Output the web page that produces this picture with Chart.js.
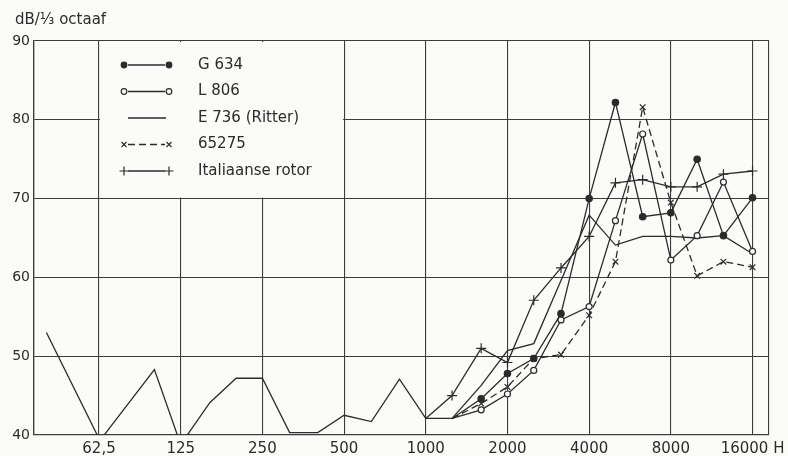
<!DOCTYPE html>
<html>
<head>
<meta charset="utf-8">
<script src="https://cdn.jsdelivr.net/npm/chart.js@4.4.0/dist/chart.umd.min.js"></script>
<style>
  html, body { margin: 0; padding: 0; background: #fbfbf9; }
  #wrap { width: 788px; height: 456px; }
</style>
</head>
<body>
<div id="wrap"><canvas id="spectrum" width="788" height="456"></canvas></div>
<script>
// tertsbanden (Hz)
const bands = [40, 50, 63, 80, 100, 125, 160, 200, 250, 315, 400, 500, 630, 800,
  1000, 1250, 1600, 2000, 2500, 3150, 4000, 5000, 6300, 8000, 10000, 12500, 16000];

// niveaus in dB per 1/3 octaaf (null = geen meetpunt)
const g634 = [null, null, null, null, null, null, null, null, null, null, null, null, null, null,
  null, 42.1, 44.6, 47.8, 49.7, 55.4, 70.0, 82.2, 67.7, 68.2, 75.0, 65.3, 70.1];
const l806 = [null, null, null, null, null, null, null, null, null, null, null, null, null, null,
  null, 42.1, 43.2, 45.2, 48.2, 54.6, 56.3, 67.2, 78.2, 62.2, 65.3, 72.1, 63.3];
const e736 = [53.0, null, 39.3, null, 48.3, 38.8, 44.1, 47.2, 47.2, 40.3, 40.3, 42.5, 41.7, 47.1,
  42.1, 42.1, 46.3, 50.7, 51.6, 59.6, 67.9, 64.1, 65.2, 65.2, 65.0, 65.3, 63.0];
const s65275 = [null, null, null, null, null, null, null, null, null, null, null, null, null, null,
  null, 42.1, 44.0, 46.1, 49.7, 50.2, 55.2, 62.0, 81.6, 69.5, 60.2, 62.0, 61.3];
const italiaans = [null, null, null, null, null, null, null, null, null, null, null, null, null, null,
  42.1, 45.0, 51.0, 49.2, 57.1, 61.2, 65.2, 72.0, 72.4, 71.5, 71.5, 73.1, 73.5];

const seriesNames = ["G 634", "L 806", "E 736 (Ritter)", "65275", "Italiaanse rotor"];

// as-verdeling
const xTickValues = [62.5, 125, 250, 500, 1000, 2000, 4000, 8000, 16000];
const xTickLabels = ["62,5", "125", "250", "500", "1000", "2000", "4000", "8000", "16000 H"];
const xMin = 36, xMax = 18400;
const yTickValues = [40, 50, 60, 70, 80, 90];

const INK = "#2b2b2b";
const PAPER = "#fbfbf9";
const FONT = "'DejaVu Sans', sans-serif";

function toPoints(values) {
  return bands.map((f, i) => ({ x: f, y: values[i] }));
}

// geen marker op het eerste punt van een reeks
function markerRadius(size) {
  return ctx => {
    const data = ctx.dataset.data;
    const first = data.findIndex(p => p.y !== null);
    return ctx.dataIndex === first ? 0 : size;
  };
}

function makeSet(label, values, extra) {
  return Object.assign({
    label: label,
    data: toPoints(values),
    borderColor: INK,
    backgroundColor: INK,
    borderWidth: 1.3,
    pointBorderColor: INK,
    pointBorderWidth: 1.2,
    pointHoverRadius: 0,
    tension: 0,
    spanGaps: true,
    clip: 0
  }, extra);
}

const datasets = [
  makeSet(seriesNames[0], g634, { pointStyle: "circle", pointRadius: markerRadius(3.2), pointBackgroundColor: INK }),
  makeSet(seriesNames[1], l806, { pointStyle: "circle", pointRadius: markerRadius(3), pointBackgroundColor: PAPER }),
  makeSet(seriesNames[2], e736, { pointRadius: 0 }),
  makeSet(seriesNames[3], s65275, { pointStyle: "crossRot", pointRadius: markerRadius(4), borderDash: [7, 4] }),
  makeSet(seriesNames[4], italiaans, { pointStyle: "cross", pointRadius: markerRadius(5) })
];

// =============================
// legenda in een wit vak linksboven + astitel
// =============================
const legendBox = {
  id: "legendBox",
  beforeDatasetsDraw(chart) {
    const { ctx, scales: { x, y } } = chart;
    const left = x.getPixelForValue(62.5) + 1;
    const right = x.getPixelForValue(500) - 1;
    const top = y.getPixelForValue(90) + 1;
    const bottom = y.getPixelForValue(70) - 1;
    ctx.save();
    ctx.fillStyle = PAPER;
    ctx.fillRect(left, top, right - left, bottom - top);

    const rowH = 26.5;
    const y0 = top + 23;
    const sx1 = left + 24, sx2 = left + 69;
    const textX = left + 98;
    chart.data.datasets.forEach((ds, i) => {
      const ry = y0 + i * rowH;
      ctx.strokeStyle = INK;
      ctx.lineWidth = 1.3;
      ctx.setLineDash(ds.borderDash || []);
      ctx.beginPath();
      ctx.moveTo(sx1 + 4, ry);
      ctx.lineTo(sx2 - (ds.pointStyle ? 4 : 3), ry);
      ctx.stroke();
      ctx.setLineDash([]);
      if (ds.pointStyle) {
        const r = ds.pointStyle === "circle" ? 2.8 : (ds.pointStyle === "cross" ? 4.5 : 3.5);
        ctx.fillStyle = ds.pointBackgroundColor || INK;
        ctx.lineWidth = 1.2;
        [sx1, sx2].forEach(px => {
          Chart.helpers.drawPoint(ctx, { pointStyle: ds.pointStyle, radius: r, rotation: 0, borderWidth: 1.2 }, px, ry);
        });
      }
      ctx.fillStyle = INK;
      ctx.font = "15px " + FONT;
      ctx.textBaseline = "middle";
      ctx.textAlign = "left";
      ctx.fillText(ds.label, textX, ry);
    });

    // astitel
    ctx.font = "15px " + FONT;
    ctx.textBaseline = "alphabetic";
    ctx.fillText("dB/⅓ octaaf", 15, 24);
    ctx.restore();
  }
};

const ctx = document.getElementById("spectrum").getContext("2d");
const chart = new Chart(ctx, {
  type: "line",
  data: { datasets: datasets },
  options: {
    responsive: false,
    animation: false,
    events: [],
    layout: { padding: { top: 41, right: 19, left: 0, bottom: 0 } },
    plugins: { legend: { display: false }, tooltip: { enabled: false }, title: { display: false } },
    scales: {
      x: {
        type: "logarithmic",
        min: xMin,
        max: xMax,
        afterBuildTicks: s => {
          s.ticks = [xMin].concat(xTickValues, [xMax]).map(v => ({ value: v }));
        },
        afterFit: s => { s.height = 21; },
        ticks: {
          autoSkip: false,
          maxRotation: 0,
          padding: 5,
          color: INK,
          font: { family: FONT, size: 15 },
          callback: v => {
            const i = xTickValues.indexOf(v);
            return i >= 0 ? xTickLabels[i] : "";
          }
        },
        grid: { color: "#3c3c3c", lineWidth: 1.1, drawTicks: false },
        border: { display: true, color: "#3c3c3c", width: 1.3 }
      },
      y: {
        min: 40,
        max: 90,
        afterBuildTicks: s => { s.ticks = yTickValues.map(v => ({ value: v })); },
        afterFit: s => { s.width = 34; },
        ticks: {
          padding: 4,
          color: INK,
          font: { family: FONT, size: 14 }
        },
        grid: { color: "#3c3c3c", lineWidth: 1.1, drawTicks: false },
        border: { display: true, color: "#3c3c3c", width: 1.3 }
      }
    }
  },
  plugins: [legendBox]
});
</script>
</body>
</html>
